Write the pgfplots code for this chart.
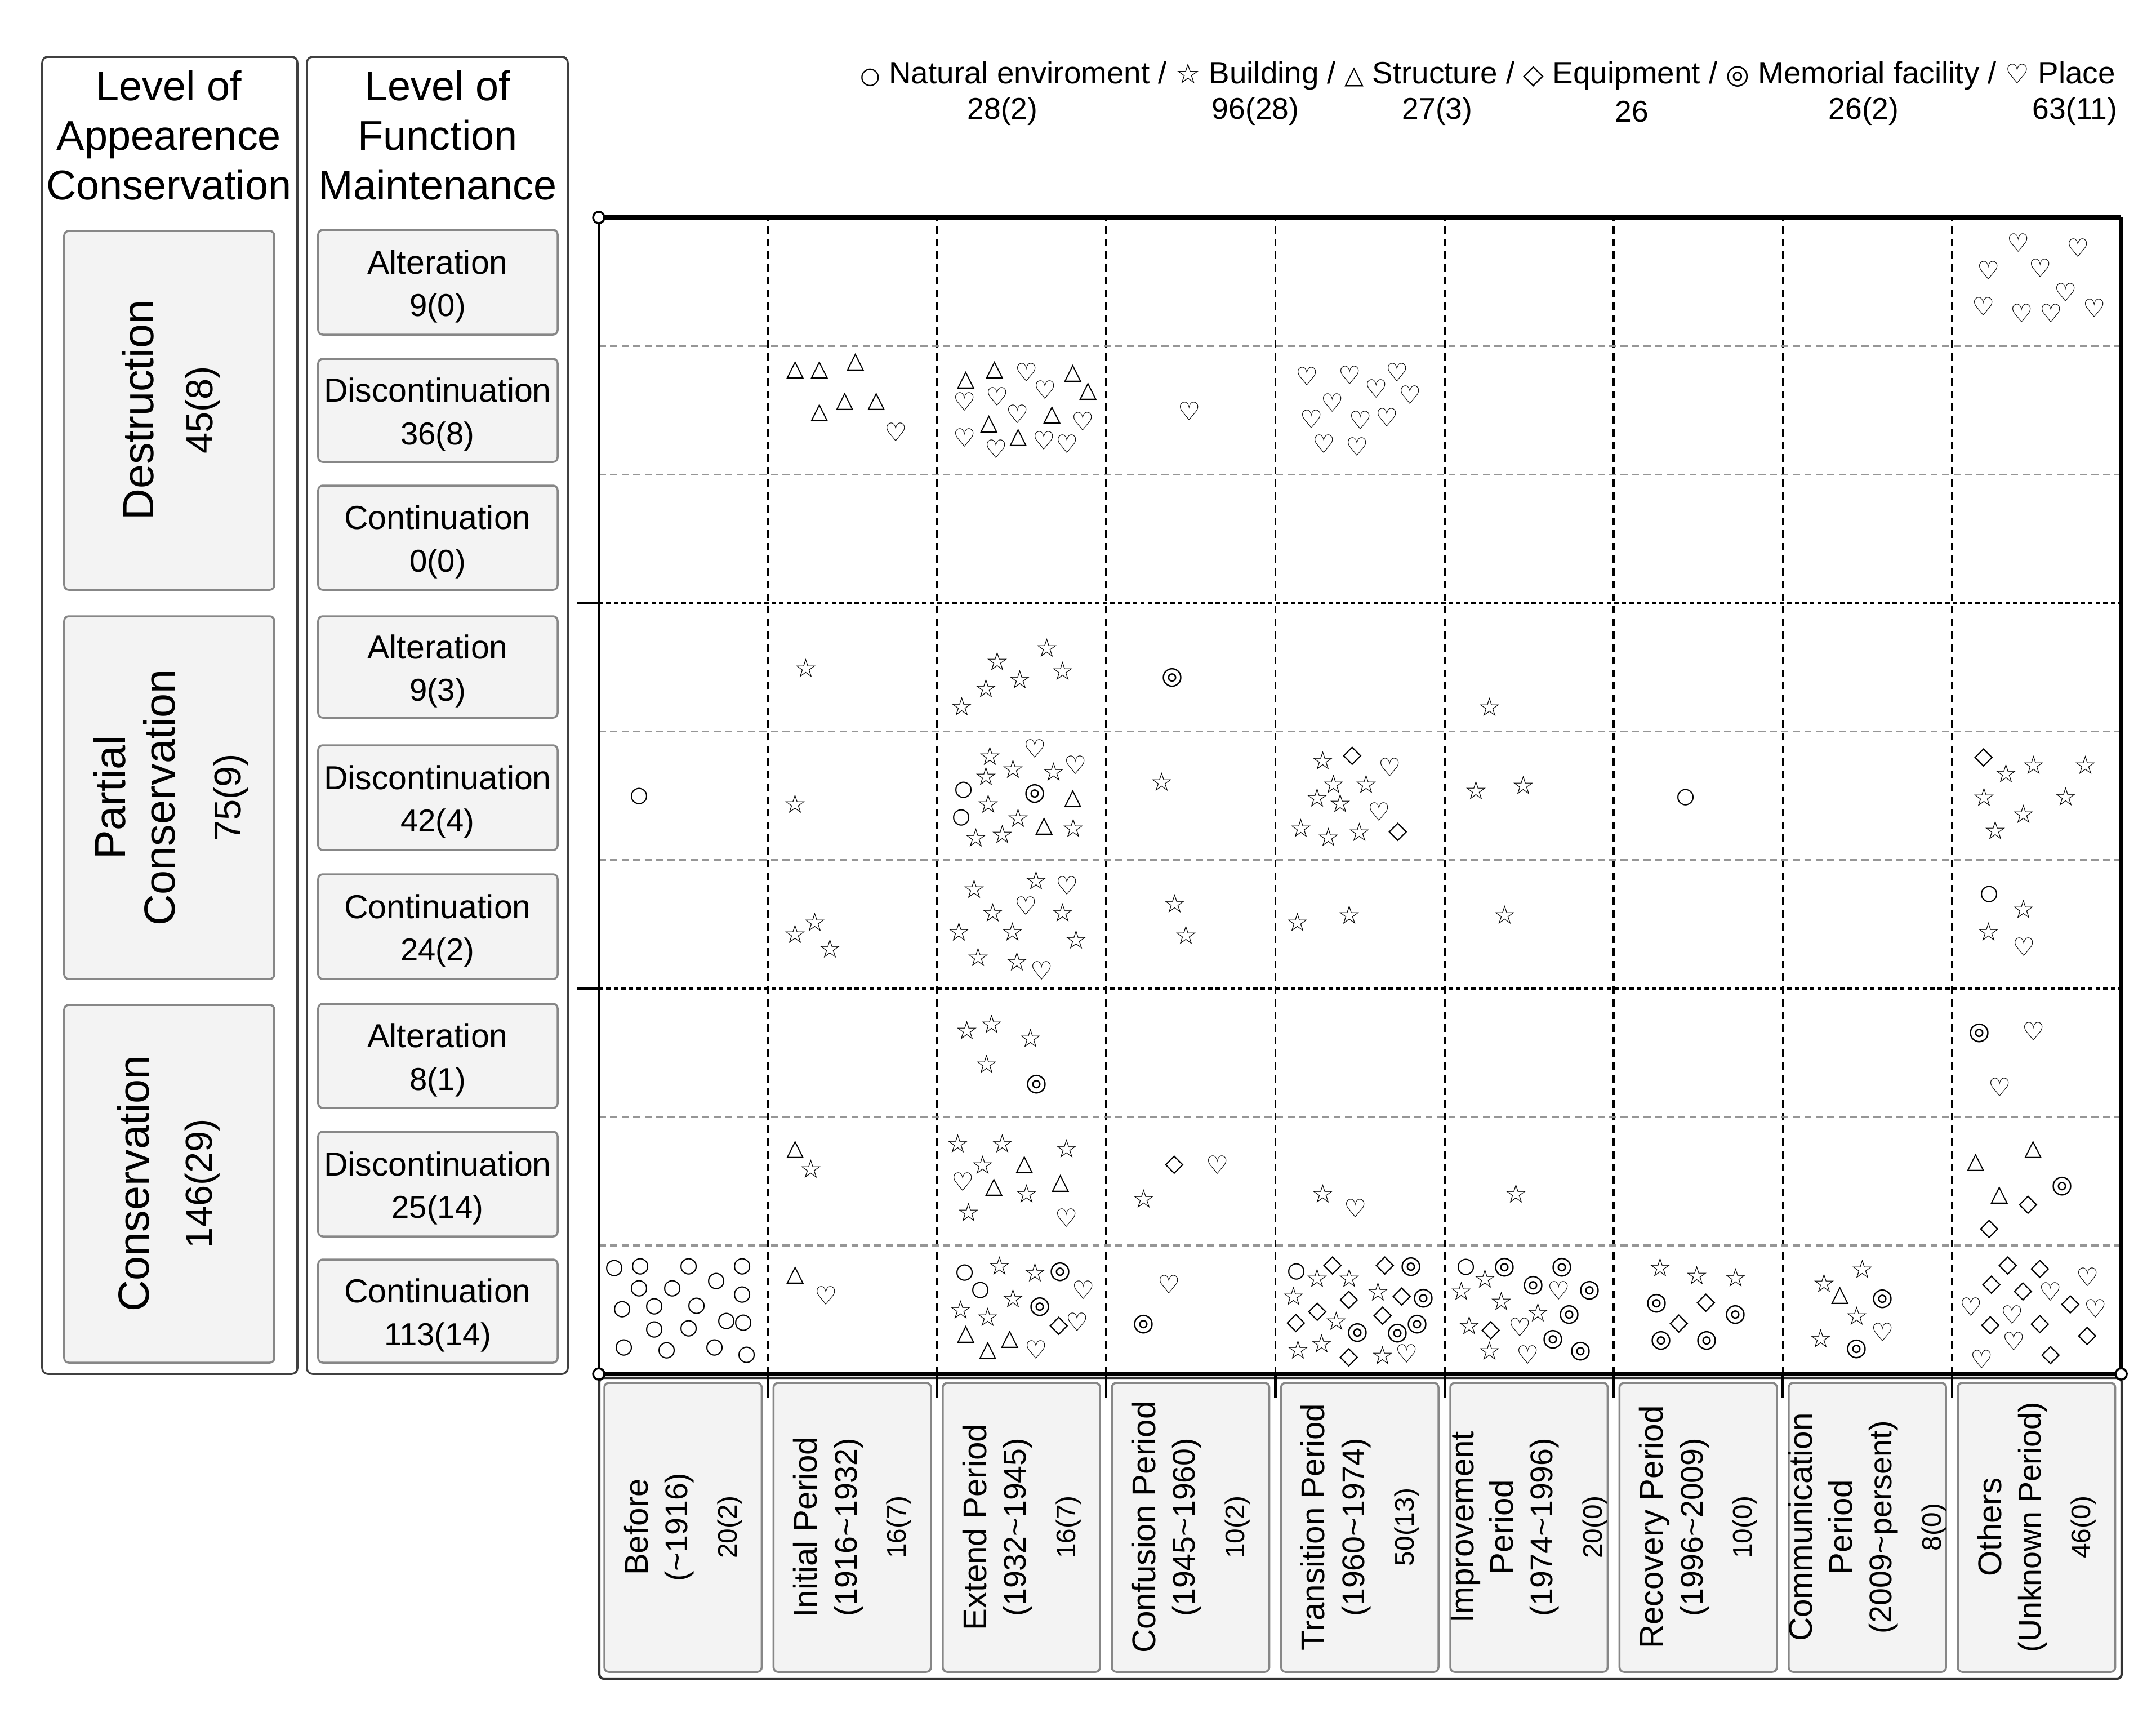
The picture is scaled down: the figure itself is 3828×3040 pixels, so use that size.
\documentclass[border=0pt]{standalone}
\usepackage{fontspec}
\setmainfont{Liberation Sans}
\newfontfamily\sym{DejaVu Sans}
\usepackage{pgfplots}
\pgfplotsset{compat=1.18}
\usepackage{pgfplotstable}

\definecolor{boxfill}{RGB}{243,243,243}
\definecolor{boxline}{RGB}{135,135,135}
\definecolor{gridgray}{RGB}{150,150,150}

\newcommand{\fs}[2]{\fontsize{#1}{#2}\selectfont}
\newcommand{\ls}[2][6.3]{{\sym\fs{#1}{8}#2}}

% x = period column (0..9), y = level row counted from the bottom (0..9)
\pgfplotstableread{
x y
0.240 4.494
2.157 4.542
2.144 4.327
6.425 4.485
8.222 3.731
0.093 0.824
0.246 0.833
0.533 0.833
0.849 0.833
0.240 0.666
0.436 0.666
0.696 0.719
0.849 0.618
0.140 0.500
0.330 0.522
0.579 0.530
0.756 0.412
0.856 0.395
0.330 0.346
0.533 0.355
0.150 0.202
0.403 0.180
0.686 0.202
0.876 0.149
2.164 0.785
2.257 0.653
4.124 0.794
5.127 0.829
}\tNat

\pgfplotstableread{
x y
1.225 5.493
2.650 5.651
2.357 5.546
2.743 5.471
2.490 5.405
2.290 5.335
2.147 5.195
5.266 5.191
1.162 4.437
2.314 4.809
2.450 4.709
2.290 4.652
2.690 4.687
2.304 4.437
2.480 4.327
2.387 4.200
2.230 4.174
2.806 4.248
3.329 4.608
4.281 4.774
4.344 4.590
4.537 4.590
4.248 4.485
4.384 4.441
4.151 4.248
4.314 4.178
4.497 4.217
5.186 4.542
5.466 4.581
8.319 4.673
8.482 4.739
8.791 4.739
8.189 4.489
8.672 4.494
8.425 4.358
8.256 4.231
1.278 3.516
1.162 3.424
1.368 3.310
2.220 3.775
2.587 3.840
2.330 3.591
2.743 3.591
2.130 3.441
2.447 3.441
2.823 3.380
2.244 3.244
2.473 3.209
3.405 3.661
3.472 3.415
4.131 3.516
4.437 3.573
5.356 3.573
8.425 3.617
8.216 3.441
2.177 2.674
2.324 2.723
2.553 2.613
2.294 2.411
1.255 1.596
2.124 1.793
2.387 1.793
2.766 1.754
2.270 1.626
2.530 1.403
2.187 1.258
3.222 1.363
4.281 1.403
5.423 1.403
2.370 0.842
2.580 0.789
2.450 0.587
2.140 0.500
2.300 0.443
4.248 0.745
4.437 0.745
4.108 0.605
4.607 0.640
4.361 0.412
4.274 0.237
4.134 0.189
4.634 0.145
5.240 0.741
5.100 0.644
5.336 0.566
5.553 0.478
5.146 0.377
5.266 0.180
6.275 0.829
6.491 0.767
6.721 0.750
7.470 0.815
7.244 0.706
7.437 0.452
7.224 0.276
}\tBld

\pgfplotstableread{
x y
1.162 7.812
1.305 7.812
1.518 7.874
1.455 7.567
1.641 7.567
1.305 7.480
2.170 7.733
2.340 7.812
2.803 7.786
2.893 7.646
2.307 7.391
2.680 7.462
2.480 7.286
2.803 4.476
2.633 4.261
1.162 1.745
2.517 1.626
2.337 1.451
2.730 1.482
8.142 1.644
8.482 1.745
8.282 1.390
1.162 0.767
2.170 0.307
2.300 0.180
2.430 0.267
7.340 0.609
}\tStr

\pgfplotstableread{
x y
4.457 4.809
4.724 4.217
8.189 4.796
3.402 1.626
8.452 1.315
8.222 1.127
2.720 0.373
4.338 0.842
4.647 0.842
4.437 0.574
4.750 0.601
4.248 0.482
4.124 0.395
4.634 0.452
4.437 0.127
5.276 0.338
6.545 0.552
6.385 0.390
8.332 0.842
8.522 0.815
8.236 0.693
8.422 0.640
8.699 0.539
8.229 0.377
8.522 0.386
8.802 0.294
8.585 0.145
}\tEqp

\pgfplotstableread{
x y
3.392 5.419
2.577 4.516
2.587 2.253
8.162 2.652
8.652 1.460
2.730 0.794
2.610 0.522
3.222 0.386
4.804 0.833
4.877 0.587
4.487 0.320
4.724 0.316
4.840 0.386
5.356 0.829
5.696 0.829
5.526 0.688
5.859 0.649
5.739 0.460
5.643 0.267
5.806 0.175
6.255 0.548
6.721 0.460
6.282 0.259
6.551 0.259
7.590 0.583
7.437 0.193
}\tMem

\pgfplotstableread{
x y
8.392 8.803
8.745 8.764
8.216 8.588
8.522 8.606
8.672 8.417
8.186 8.308
8.412 8.255
8.585 8.255
8.842 8.295
1.758 7.330
2.530 7.795
2.640 7.659
2.164 7.567
2.357 7.607
2.477 7.470
2.863 7.413
2.164 7.286
2.350 7.199
2.633 7.264
2.770 7.238
3.492 7.492
4.188 7.764
4.441 7.773
4.720 7.795
4.597 7.668
4.797 7.620
4.338 7.558
4.214 7.431
4.504 7.422
4.660 7.444
4.288 7.238
4.484 7.216
2.580 4.866
2.820 4.739
4.677 4.722
4.614 4.375
2.770 3.801
2.527 3.643
2.620 3.139
8.425 3.323
8.482 2.665
8.282 2.231
2.154 1.495
2.766 1.214
3.658 1.626
4.474 1.289
1.345 0.609
2.866 0.653
2.830 0.403
2.587 0.189
3.372 0.697
4.777 0.158
5.676 0.649
5.446 0.364
5.493 0.149
7.590 0.324
8.802 0.754
8.582 0.640
8.113 0.522
8.356 0.460
8.848 0.509
8.366 0.254
8.176 0.114
}\tPlc

\tikzset{
  gbox/.style={fill=boxfill, draw=boxline, line width=0.5pt, rounded corners=0.4mm},
  pan/.style={draw=black!75, line width=0.5pt, rounded corners=0.5mm},
}
\pgfplotsset{
  mk/.style 2 args={only marks, color=black, mark=text, text mark={#1},
    text mark as node=true, text mark style={font=\sym\fs{#2}{8}, inner sep=0pt}},
}

% rotated period label in the bottom strip: column, name, years, count
\newcommand{\period}[4]{%
  \node[rotate=90, align=center, font=\fs{8.3}{10}] at ({1063+(#1+0.5)*300.4},2711)
    {#2\\{\fs{7.9}{10}#3}\\[2.5pt]{\fs{6.8}{10}#4}};}
% small function box: top, bottom, name, count
\newcommand{\funcbox}[4]{%
  \draw[gbox] (565,#1) rectangle (990,#2);
  \node[font=\fs{8.4}{10}] at (777,{(#1+#2)/2-36}) {#3};
  \node[font=\fs{8}{10}] at (777,{(#1+#2)/2+46}) {#4};}

\begin{document}
\begin{tikzpicture}
\begin{scope}[x=0.05mm,y=-0.05mm]
\path (0,0) rectangle (3828,3040);
% left panels
\draw[pan] (75,101) rectangle (528,2439);
\draw[pan] (545,101) rectangle (1008,2439);
\node[align=center, font=\fs{10.5}{12.5}] at (300,240) {Level of\\Appearence\\Conservation};
\node[align=center, font=\fs{10.5}{12.5}] at (777,240) {Level of\\Function\\Maintenance};

\draw[gbox] (114,410) rectangle (487,1047);
\draw[gbox] (114,1094) rectangle (487,1738);
\draw[gbox] (114,1784) rectangle (487,2419);
\node[rotate=90, font=\fs{11}{13}] at (245,728) {Destruction};
\node[rotate=90, font=\fs{9.5}{11}] at (360,728) {45(8)};
\node[rotate=90, font=\fs{11}{13}] at (195,1416) {Partial};
\node[rotate=90, font=\fs{11}{13}] at (283,1416) {Conservation};
\node[rotate=90, font=\fs{9.5}{11}] at (410,1416) {75(9)};
\node[rotate=90, font=\fs{11}{13}] at (237,2101) {Conservation};
\node[rotate=90, font=\fs{9.5}{11}] at (359,2101) {146(29)};

\funcbox{408}{594}{Alteration}{9(0)}
\funcbox{637}{820}{Discontinuation}{36(8)}
\funcbox{862}{1047}{Continuation}{0(0)}
\funcbox{1094}{1274}{Alteration}{9(3)}
\funcbox{1323}{1509}{Discontinuation}{42(4)}
\funcbox{1552}{1738}{Continuation}{24(2)}
\funcbox{1782}{1967}{Alteration}{8(1)}
\funcbox{2009}{2195}{Discontinuation}{25(14)}
\funcbox{2236}{2419}{Continuation}{113(14)}

% legend
\node[anchor=east, inner sep=0pt, font=\fs{7.8}{9}] at (3757,134)
  {\ls[5.8]{○} Natural enviroment / \ls[7]{☆} Building / \ls{△} Structure / \ls[6.8]{◇} Equipment / \ls[6.8]{◎} Memorial facility / \ls[6.8]{♡} Place};
\node[font=\fs{7.6}{9}] at (1780,198) {28(2)};
\node[font=\fs{7.6}{9}] at (2229,198) {96(28)};
\node[font=\fs{7.6}{9}] at (2552,198) {27(3)};
\node[font=\fs{7.6}{9}] at (2897,198) {26};
\node[font=\fs{7.6}{9}] at (3309,198) {26(2)};
\node[font=\fs{7.6}{9}] at (3684,198) {63(11)};

% bottom period strip
\draw[draw=black!80, line width=0.6pt, rounded corners=0.4mm] (1064,2446) rectangle (3767,2980);
\foreach \i in {0,...,8}
  \draw[gbox] ({1063+\i*300.4+10},2455) rectangle ({1063+(\i+1)*300.4-11},2968);
\period{0}{Before}{(\textasciitilde1916)}{20(2)}
\period{1}{Initial Period}{(1916\textasciitilde1932)}{16(7)}
\period{2}{Extend Period}{(1932\textasciitilde1945)}{16(7)}
\period{3}{Confusion Period}{(1945\textasciitilde1960)}{10(2)}
\period{4}{Transition Period}{(1960\textasciitilde1974)}{50(13)}
\period{5}{Improvement\\Period}{(1974\textasciitilde1996)}{20(0)}
\period{6}{Recovery Period}{(1996\textasciitilde2009)}{10(0)}
\period{7}{Communication\\Period}{(2009\textasciitilde persent)}{8(0)}
\period{8}{Others}{(Unknown Period)}{46(0)}
\end{scope}

\begin{axis}[
  at={(53.15mm,-121.95mm)}, anchor=south west,
  scale only axis, width=135.15mm, height=102.65mm,
  xmin=0, xmax=9, ymin=0, ymax=9,
  clip=false,
  axis line style={draw=none},
  major tick length=0pt, tick style={draw=none},
  xtick={1,...,8}, ytick={1,2,4,5,7,8},
  xticklabels={}, yticklabels={},
  extra y ticks={3,6}, extra y tick labels={},
  xmajorgrids, ymajorgrids,
  x grid style={black, line width=0.5pt, dash pattern=on 1.9pt off 1.3pt},
  y grid style={gridgray, line width=0.5pt, dash pattern=on 1.8pt off 1.1pt},
  extra y tick style={ymajorgrids=true,
    y grid style={black, line width=0.6pt, dash pattern=on 1.1pt off 0.8pt}},
]
\addplot[mk={○}{5.4}] table {\tNat};
\addplot[mk={☆}{6.5}] table {\tBld};
\addplot[mk={△}{5.8}] table {\tStr};
\addplot[mk={◇}{6.2}] table {\tEqp};
\addplot[mk={◎}{6.2}] table {\tMem};
\addplot[mk={♡}{6.4}] table {\tPlc};

\draw[line width=1.1pt] (rel axis cs:0,1) -- (rel axis cs:1,1);
\draw[line width=1.1pt] (rel axis cs:0,0) -- (rel axis cs:1,0);
\draw[line width=0.5pt] (rel axis cs:0,0) -- (rel axis cs:0,1);
\draw[line width=0.8pt] (rel axis cs:1,0) -- (rel axis cs:1,1);
\draw[line width=0.6pt] (rel axis cs:0,0.33333) -- ++(-1.95mm,0);
\draw[line width=0.6pt] (rel axis cs:0,0.66667) -- ++(-1.95mm,0);
\pgfplotsinvokeforeach{1,...,8}{\draw[line width=0.6pt] (axis cs:#1,0) -- ++(0,-2.1mm);}
\draw[fill=white, line width=0.5pt] (rel axis cs:0,1) circle[radius=0.5mm];
\draw[fill=white, line width=0.5pt] (rel axis cs:0,0) circle[radius=0.5mm];
\draw[fill=white, line width=0.5pt] (rel axis cs:1,0) circle[radius=0.5mm];
\end{axis}
\end{tikzpicture}
\end{document}
